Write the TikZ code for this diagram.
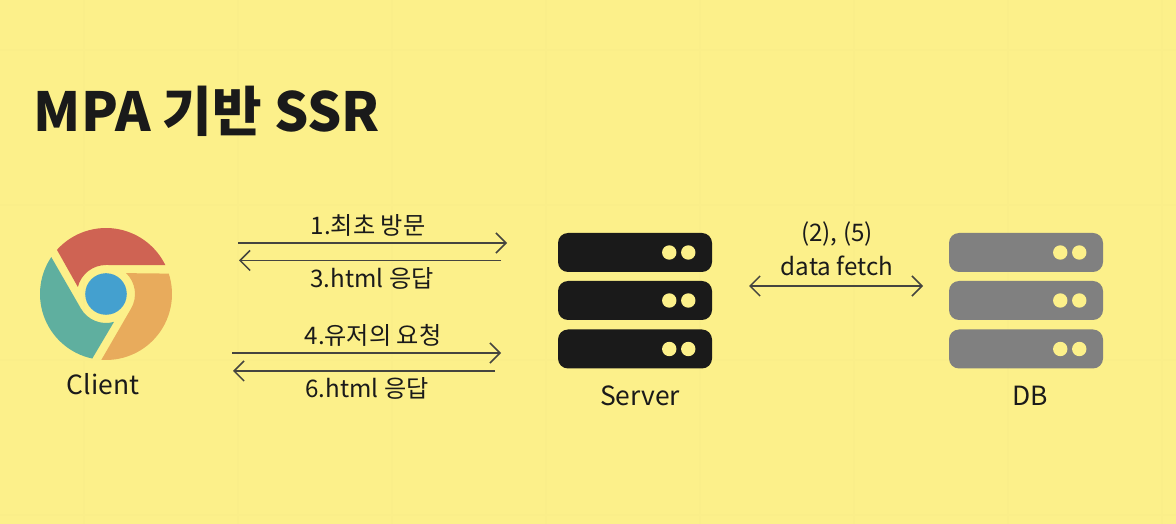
\documentclass[tikz,border=0pt]{standalone}
\usepackage{fontspec}
\setmainfont{Noto Sans CJK KR}
\usetikzlibrary{arrows.meta}
\definecolor{paper}{HTML}{FCF08A}
\definecolor{paperline}{HTML}{FAEE89}
\definecolor{ink}{HTML}{1A1A1A}
\definecolor{wire}{HTML}{45453F}
\definecolor{dbgrey}{HTML}{808080}
\definecolor{chromered}{HTML}{CF6353}
\definecolor{chromeorange}{HTML}{E8AB5C}
\definecolor{chromegreen}{HTML}{5FAF9F}
\definecolor{chromeblue}{HTML}{44A0CF}
\tikzset{
  rackbox/.style={minimum width=3.85cm,minimum height=.975cm,rounded corners=.25cm,inner sep=0pt},
  caption/.style={anchor=base,text=ink,font=\fontsize{18.8}{20}\selectfont},
  msg/.style={anchor=base,text=ink,font=\fontsize{17.2}{18}\selectfont},
  wirearrow/.style={draw=wire,line width=1.05pt,-{Straight Barb[length=.25cm,width=.5cm]}},
}
\begin{document}
\begin{tikzpicture}
\fill[paper] (0,0) rectangle (29.4,13.1);
\useasboundingbox (0,0) rectangle (29.4,13.1);
% faint page grid
\foreach \x in {2.1,5.95,9.8,13.65,17.5,21.35,25.2,29.05}
   \draw[paperline,line width=1pt] (\x,0) -- (\x,13.1);
\foreach \y in {.225,4.1,7.975,11.85}
   \draw[paperline,line width=1pt] (0,\y) -- (29.4,\y);

\node[anchor=base west,inner sep=0pt,text=ink,font=\fontsize{38.3}{40}\selectfont\bfseries] (title) at (.84,9.8) {MPA 기반 SSR};

% client icon
\foreach \c/\r in {chromered/0,chromeorange/-120,chromegreen/120}
   \fill[\c,shift={(2.65,5.75)},rotate=\r] (138:1.65) arc[start angle=138,end angle=26,radius=1.65]
      -- (90:.725) arc[start angle=90,end angle=166,radius=.725] -- cycle;
\node[circle,fill=chromeblue,minimum size=1.04cm,inner sep=0pt] (chrome) at (2.65,5.75) {};
\node[caption] (client) at (2.575,3.225) {Client};

% server and db
\foreach \n/\y in {1/6.7875,2/5.5875,3/4.375} {
   \node[rackbox,fill=ink] (srv\n) at (15.875,\y) {};
   \node[rackbox,fill=dbgrey] (db\n) at (25.65,\y) {};
   \foreach \b in {srv\n,db\n} {
      \fill[paper] ([xshift=-1.075cm]\b.east) circle (.18);
      \fill[paper] ([xshift=-.6cm]\b.east) circle (.18);
   }
}
\node[caption] (server) at (16,2.95) {Server};
\node[caption] (db) at (25.75,2.95) {DB};

% arrows
\coordinate (a1) at (5.95,7.025);
\coordinate (b1) at (12.675,7.025);
\coordinate (a3) at (12.525,6.5875);
\coordinate (b3) at (5.975,6.5875);
\coordinate (a4) at (5.8,4.275);
\coordinate (b4) at (12.525,4.275);
\coordinate (a6) at (12.375,3.825);
\coordinate (b6) at (5.825,3.825);
\coordinate (af) at (18.725,5.95);
\coordinate (bf) at (23.075,5.95);
\draw[wirearrow] (a1) -- (b1);
\draw[wirearrow] (a3) -- (b3);
\draw[wirearrow] (a4) -- (b4);
\draw[wirearrow] (a6) -- (b6);
\draw[wirearrow,{Straight Barb[length=.25cm,width=.5cm]}-{Straight Barb[length=.25cm,width=.5cm]}] (af) -- (bf);

\node[msg] (m1) at (9.2,7.225) {1.최초 방문};
\node[msg] (m3) at (9.3,5.9) {3.html 응답};
\node[msg] (m4) at (9.325,4.475) {4.유저의 요청};
\node[msg] (m6) at (9.175,3.15) {6.html 응답};
\node[msg] (m2) at (20.925,7.05) {(2), (5)};
\node[msg] (mf) at (20.925,6.2) {data fetch};
\end{tikzpicture}
\end{document}
